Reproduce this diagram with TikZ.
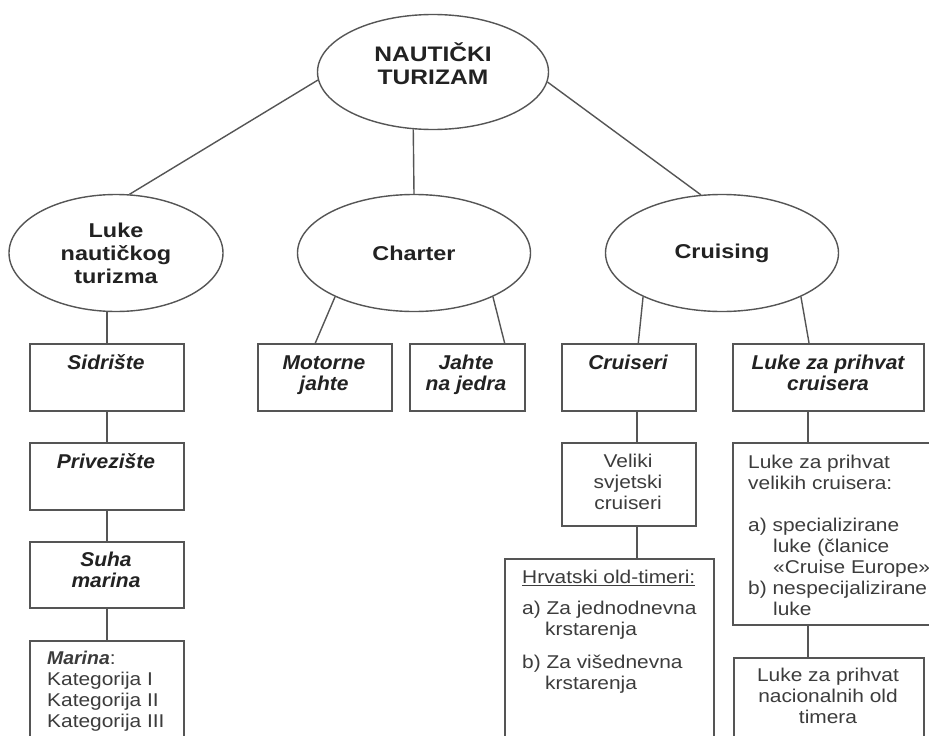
\documentclass[tikz,border=0pt]{standalone}
\usepackage{fontspec}
\setmainfont[FakeStretch=1.13]{Liberation Sans}
\newfontfamily\bifont[FakeStretch=1.05]{Liberation Sans}
\newfontfamily\bfont[FakeStretch=1.17]{Liberation Sans}
\usetikzlibrary{shapes.geometric,calc}
\definecolor{linegray}{HTML}{555555}
\definecolor{txtdark}{HTML}{222222}
\definecolor{txtgray}{HTML}{3C3C3C}
\begin{document}
\begin{tikzpicture}[x=1pt,y=-1pt,
 ln/.style={draw=linegray, line width=1.4pt},
 ell/.style={ellipse, draw=linegray, line width=1.4pt, inner sep=0pt, font=\bfont\fontsize{20}{23}\selectfont\bfseries, text=txtdark, align=center},
 bx/.style={rectangle, draw=linegray, line width=1.6pt, inner sep=0pt, anchor=north west},
 ttl/.style={anchor=north, inner sep=0pt, align=center, font=\bifont\fontsize{20}{21.5}\selectfont\bfseries\itshape, text=txtdark},
 bodyc/.style={anchor=north, inner sep=0pt, align=center, font=\fontsize{18.5}{21}\selectfont, text=txtgray},
 bodyl/.style={anchor=north west, inner sep=0pt, align=left, font=\fontsize{18.5}{21}\selectfont, text=txtgray},
]
\useasboundingbox (0,0) rectangle (929,736);
\fill[white] (0,0) rectangle (929,736);
\clip (0,0) rectangle (929,736);

% ellipses
\node[ell, minimum width=231pt, minimum height=115pt] (top) at (433,72) {};
\node[inner sep=0pt, align=center, font=\bfont\fontsize{21}{23}\selectfont\bfseries, text=txtdark] (ttop) at (433,64) {NAUTIČKI\\TURIZAM};
\node[ell, minimum width=214pt, minimum height=117pt] (luke) at (116,253) {Luke\\nautičkog\\turizma};
\node[ell, minimum width=233pt, minimum height=117pt] (charter) at (414,253) {Charter};
\node[ell, minimum width=233pt, minimum height=117pt] (cruising) at (722,253) {Cruising};

% boxes
\node[bx, minimum width=154pt, minimum height=67pt] (sid) at (29,343) {};
\node[bx, minimum width=154pt, minimum height=67pt] (priv) at (29,442) {};
\node[bx, minimum width=154pt, minimum height=66pt] (suha) at (29,541) {};
\node[bx, minimum width=154pt, minimum height=130pt] (marina) at (29,640) {};
\node[bx, minimum width=134pt, minimum height=67pt] (mot) at (257,343) {};
\node[bx, minimum width=115pt, minimum height=67pt] (jed) at (409,343) {};
\node[bx, minimum width=134pt, minimum height=67pt] (cruiseri) at (561,343) {};
\node[bx, minimum width=191pt, minimum height=67pt] (lpc) at (732,343) {};
\node[bx, minimum width=134pt, minimum height=83pt] (vel) at (561,442) {};
\node[bx, minimum width=209pt, minimum height=200pt] (hrv) at (504,558) {};
\node[bx, minimum width=220pt, minimum height=182pt] (lvc) at (732,442) {};
\node[bx, minimum width=190pt, minimum height=120pt] (nac) at (733,657) {};

% connectors
\draw[ln] (top.184) -- (luke.77);
\draw[ln] (top.251) -- (charter.north);
\draw[ln] (top.355) -- (cruising.110);
\draw[ln] (charter.209) -- ($(mot.north west)!0.43!(mot.north east)$);
\draw[ln] (charter.331) -- ($(jed.north west)!0.82!(jed.north east)$);
\draw[ln] (cruising.209) -- ($(cruiseri.north west)!0.57!(cruiseri.north east)$);
\draw[ln] (cruising.331) -- ($(lpc.north west)!0.4!(lpc.north east)$);
\draw[ln] (sid.north) -- (sid.north |- luke.south);
\draw[ln] (sid.south) -- (priv.north);
\draw[ln] (priv.south) -- (suha.north);
\draw[ln] (suha.south) -- (marina.north);
\coordinate (cx) at (637,0);
\coordinate (rx) at (808,0);
\draw[ln] (cruiseri.south -| cx) -- (vel.north -| cx);
\draw[ln] (vel.south -| cx) -- (hrv.north -| cx);
\draw[ln] (lpc.south -| rx) -- (lvc.north -| rx);
\draw[ln] (lvc.south -| rx) -- (nac.north -| rx);

% texts
\node[ttl] (tsid) at (106,354) {\strut Sidrište};
\node[ttl] (tpriv) at (106,453) {\strut Privezište};
\node[ttl] (tsuha) at (106,551) {\strut Suha\\marina};
\node[ttl] (tmot) at (324,354) {\strut Motorne\\jahte};
\node[ttl] (tjed) at (466,354) {\strut Jahte\\na jedra};
\node[ttl] (tcru) at (628,354) {\strut Cruiseri};
\node[ttl] (tlpc) at (828,354) {\strut Luke za prihvat\\cruisera};
\node[bodyc] (tvel) at (628,453) {\strut Veliki\\svjetski\\cruiseri};
\node[bodyl] (tmar) at (47,650) {\strut{\bifont\bfseries\itshape Marina}:\\Kategorija I\\Kategorija II\\Kategorija III};
\node[bodyl] (thrv) at (522,569) {\strut\underline{Hrvatski old-timeri:}\\[10pt]a) Za jednodnevna\\\hspace*{23pt}krstarenja\\[12pt]b) Za višednevna\\\hspace*{23pt}krstarenja};
\node[bodyl] (tlvc) at (748,454) {\strut Luke za prihvat\\velikih cruisera:\\[21pt]a) specializirane\\\hspace*{25pt}luke (članice\\\hspace*{25pt}«Cruise Europe»\\b) nespecijalizirane\\\hspace*{25pt}luke};
\node[bodyc] (tnac) at (828,667) {\strut Luke za prihvat\\nacionalnih old\\timera};
\end{tikzpicture}
\end{document}
